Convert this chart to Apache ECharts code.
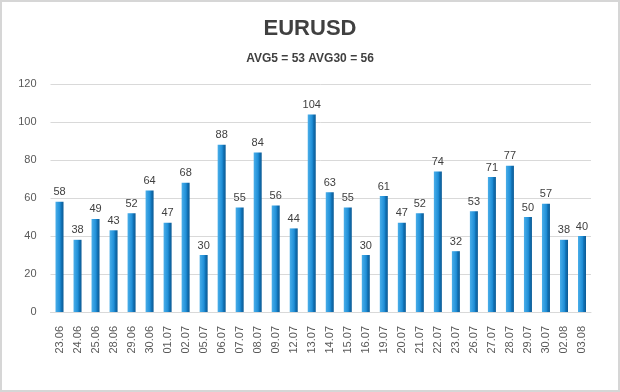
<!DOCTYPE html>
<html>
<head>
<meta charset="utf-8">
<script src="https://cdn.jsdelivr.net/npm/echarts@6/dist/echarts.min.js"></script>
<style>
html,body{margin:0;padding:0;background:#fff;}
#chart{width:620px;height:392px;}
</style>
</head>
<body>
<div id="chart"></div>
<script>
const titleText = 'EURUSD';
const subtitleText = 'AVG5 = 53 AVG30 = 56';
const categories = ['23.06','24.06','25.06','28.06','29.06','30.06','01.07','02.07','05.07','06.07','07.07','08.07','09.07','12.07','13.07','14.07','15.07','16.07','19.07','20.07','21.07','22.07','23.07','26.07','27.07','28.07','29.07','30.07','02.08','03.08'];
const values = [58,38,49,43,52,64,47,68,30,88,55,84,56,44,104,63,55,30,61,47,52,74,32,53,71,77,50,57,38,40];
const yTicks = [0,20,40,60,80,100,120];

const chart = echarts.init(document.getElementById('chart'));
chart.setOption({
  backgroundColor: '#fff',
  animation: false,
  graphic: [{
    type: 'rect', silent: true,
    shape: {x: 1, y: 1, width: 618, height: 390},
    style: {fill: 'none', stroke: '#d6d6d6', lineWidth: 2}
  }],
  title: [{
    text: titleText, left: 'center', top: 13,
    textStyle: {fontFamily: '"Liberation Sans", sans-serif', fontSize: 22, fontWeight: 'bold', color: '#404040'}
  }, {
    text: subtitleText, left: 'center', top: 48,
    textStyle: {fontFamily: '"Liberation Sans", sans-serif', fontSize: 12, fontWeight: 'bold', color: '#404040'}
  }],
  grid: {left: 50.5, right: 29, top: 84, bottom: 80},
  xAxis: {
    type: 'category', data: categories,
    axisLine: {show: true, lineStyle: {color: '#d9d9d9'}},
    axisTick: {show: false},
    axisLabel: {rotate: 90, interval: 0, margin: 14, color: '#595959', fontSize: 11, fontFamily: '"Liberation Sans", sans-serif'}
  },
  yAxis: {
    type: 'value', min: yTicks[0], max: yTicks[yTicks.length-1], interval: 20,
    axisLine: {show: false}, axisTick: {show: false},
    axisLabel: {margin: 14, color: '#595959', fontSize: 11, fontFamily: '"Liberation Sans", sans-serif'},
    splitLine: {lineStyle: {color: '#d9d9d9'}}
  },
  series: [{
    type: 'bar', data: values, barWidth: 8,
    itemStyle: {
      color: new echarts.graphic.LinearGradient(0, 0, 1, 0, [
        {offset: 0, color: '#4aaee9'},
        {offset: 0.55, color: '#1f8fd8'},
        {offset: 0.7, color: '#1274b8'},
        {offset: 1, color: '#0b5a94'}
      ])
    },
    label: {show: true, position: 'top', distance: 4, color: '#404040', fontSize: 11, fontFamily: '"Liberation Sans", sans-serif'}
  }]
});
</script>
</body>
</html>
